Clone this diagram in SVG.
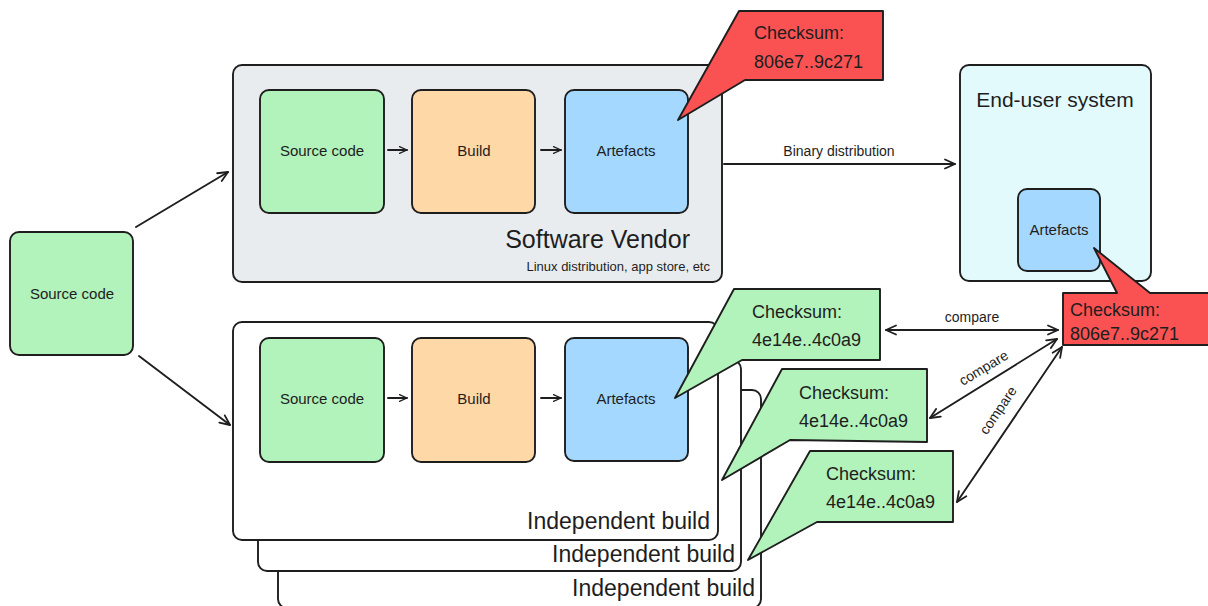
<svg xmlns="http://www.w3.org/2000/svg" width="1208" height="606" viewBox="0 0 1208 606">
  <defs>
    <marker id="arr" viewBox="0 0 12 12" refX="11" refY="6" markerWidth="12" markerHeight="12" markerUnits="userSpaceOnUse" orient="auto-start-reverse">
      <path d="M1,1.5 L11,6 L1,10.5" fill="none" stroke="#1e1e1e" stroke-width="1.8" stroke-linecap="round" stroke-linejoin="round"/>
    </marker>
    <marker id="arrS" viewBox="0 0 12 12" refX="11" refY="6" markerWidth="9" markerHeight="9" markerUnits="userSpaceOnUse" orient="auto">
      <path d="M1,1.5 L11,6 L1,10.5" fill="none" stroke="#1e1e1e" stroke-width="1.8" stroke-linecap="round" stroke-linejoin="round"/>
    </marker>
  </defs>
  <style>
    text { font-family: "Liberation Sans", Arial, sans-serif; fill: #1e1e1e; }
    .box { stroke: #1e1e1e; stroke-width: 1.9; stroke-linejoin: round; }
    .green { fill: #b2f2bb; }
    .orange { fill: #ffd8a8; }
    .blue { fill: #a5d8ff; }
    .red { fill: #fa5252; }
    .lbl { font-size: 15px; text-anchor: middle; }
    .cs { font-size: 18px; }
    .big { font-size: 23px; text-anchor: end; }
    .edge { fill: none; stroke: #1e1e1e; stroke-width: 1.9; stroke-linecap: round; }
    .elbl { font-size: 14px; text-anchor: middle; }
  </style>

  <rect width="1208" height="606" fill="#ffffff"/>

  <!-- independent build stack (back to front) -->
  <g id="build3">
    <rect class="box" x="278" y="390" width="483" height="218" rx="9" fill="#ffffff"/>
    <text class="big" x="755" y="596">Independent build</text>
  </g>
  <g id="build2">
    <rect class="box" x="258" y="360" width="483" height="211" rx="9" fill="#ffffff"/>
    <text class="big" x="735" y="562">Independent build</text>
  </g>
  <g id="build1">
    <rect class="box" x="233" y="322" width="485" height="218" rx="9" fill="#ffffff"/>
    <text class="big" x="710" y="529">Independent build</text>
    <rect class="box green" x="260" y="338" width="124" height="124" rx="9"/>
    <text class="lbl" x="322" y="404">Source code</text>
    <rect class="box orange" x="412" y="338" width="123" height="124" rx="9"/>
    <text class="lbl" x="474" y="404">Build</text>
    <rect class="box blue" x="565" y="338" width="123" height="123" rx="9"/>
    <text class="lbl" x="626" y="404">Artefacts</text>
  </g>

  <!-- software vendor -->
  <g id="vendor">
    <rect class="box" x="233" y="65" width="489" height="217" rx="9" fill="#e9ecef"/>
    <rect class="box green" x="260" y="90" width="124" height="123" rx="9"/>
    <text class="lbl" x="322" y="156">Source code</text>
    <rect class="box orange" x="412" y="90" width="123" height="123" rx="9"/>
    <text class="lbl" x="474" y="156">Build</text>
    <rect class="box blue" x="565" y="90" width="123" height="123" rx="9"/>
    <text class="lbl" x="626" y="156">Artefacts</text>
    <text x="690" y="248" font-size="25" text-anchor="end">Software Vendor</text>
    <text x="710" y="271" font-size="13" text-anchor="end">Linux distribution, app store, etc</text>
  </g>

  <!-- end-user system -->
  <g id="enduser">
    <rect class="box" x="960" y="65" width="191" height="216" rx="9" fill="#e3fafc"/>
    <text x="1055" y="107" font-size="21" text-anchor="middle">End-user system</text>
    <rect class="box blue" x="1018" y="189" width="82" height="82" rx="9"/>
    <text class="lbl" x="1059" y="235" font-size="14">Artefacts</text>
  </g>

  <!-- left source code -->
  <g id="source">
    <rect class="box green" x="10" y="232" width="123" height="123" rx="9"/>
    <text class="lbl" x="72" y="299">Source code</text>
  </g>

  <!-- checksum callouts -->
  <g id="checksum-vendor">
    <polygon class="box red" points="739,11 883,11 883,80 745,80 678,120"/>
    <text class="cs" x="754" y="39">Checksum:</text>
    <text class="cs" x="754" y="68">806e7..9c271</text>
  </g>
  <g id="checksum-enduser">
    <polygon class="box red" points="1063,293 1117,293 1094,248 1150,293 1212,293 1212,345 1063,345"/>
    <text class="cs" x="1070" y="316">Checksum:</text>
    <text class="cs" x="1070" y="340">806e7..9c271</text>
  </g>
  <g id="checksum-build1">
    <polygon class="box green" points="734,289 880,289 880,360 742,360 675,398"/>
    <text class="cs" x="752" y="318">Checksum:</text>
    <text class="cs" x="752" y="346">4e14e..4c0a9</text>
  </g>
  <g id="checksum-build2">
    <polygon class="box green" points="782,369 927,369 927,442 790,440 722,480"/>
    <text class="cs" x="799" y="399">Checksum:</text>
    <text class="cs" x="799" y="427">4e14e..4c0a9</text>
  </g>
  <g id="checksum-build3">
    <polygon class="box green" points="810,451 953,451 953,522 817,522 748,560"/>
    <text class="cs" x="826" y="480">Checksum:</text>
    <text class="cs" x="826" y="508">4e14e..4c0a9</text>
  </g>

  <!-- connectors -->
  <g id="connectors">
    <line class="edge" x1="388" y1="150" x2="407" y2="150" marker-end="url(#arrS)"/>
    <line class="edge" x1="541" y1="150" x2="561" y2="150" marker-end="url(#arrS)"/>
    <line class="edge" x1="388" y1="398" x2="407" y2="398" marker-end="url(#arrS)"/>
    <line class="edge" x1="541" y1="398" x2="561" y2="398" marker-end="url(#arrS)"/>

    <line class="edge" x1="136" y1="227" x2="228" y2="172" marker-end="url(#arr)"/>
    <line class="edge" x1="139" y1="356" x2="230" y2="425" marker-end="url(#arr)"/>

    <line class="edge" x1="724" y1="164" x2="955" y2="164" marker-end="url(#arr)"/>
    <text class="elbl" x="839" y="156">Binary distribution</text>

    <line class="edge" x1="886" y1="330" x2="1058" y2="330" marker-start="url(#arr)" marker-end="url(#arr)"/>
    <text class="elbl" x="972" y="322">compare</text>

    <line class="edge" x1="930" y1="418" x2="1057" y2="339" marker-start="url(#arr)" marker-end="url(#arr)"/>
    <text class="elbl" transform="translate(986 372) rotate(-31)">compare</text>

    <line class="edge" x1="957" y1="502" x2="1062" y2="347" marker-start="url(#arr)" marker-end="url(#arr)"/>
    <text class="elbl" transform="translate(1002 413) rotate(-56)">compare</text>
  </g>
</svg>
